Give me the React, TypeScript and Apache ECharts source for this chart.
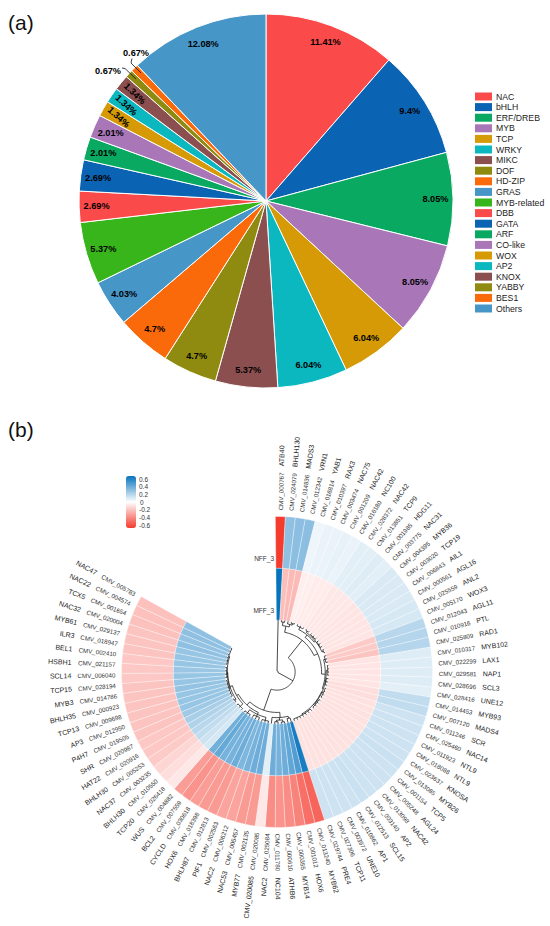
import React, { useEffect, useRef } from "react";
import * as echarts from "echarts";

const FONT = '"Liberation Sans", Arial, sans-serif';

const familyNames = ["NAC", "bHLH", "ERF/DREB", "MYB", "TCP", "WRKY", "MIKC", "DOF", "HD-ZIP", "GRAS", "MYB-related", "DBB", "GATA", "ARF", "CO-like", "WOX", "AP2", "KNOX", "YABBY", "BES1", "Others"];
const familyShares = [11.41, 9.4, 8.05, 8.05, 6.04, 6.04, 5.37, 4.7, 4.7, 4.03, 5.37, 2.69, 2.69, 2.01, 2.01, 1.34, 1.34, 1.34, 0.67, 0.67, 12.08];
const familyColors = ["#fb4a4a", "#0b63b4", "#0aa961", "#a977b8", "#d59a06", "#0bb8c0", "#8b4f4f", "#8f8a10", "#fb6a0a", "#4796c8", "#38b51b", "#fb4a4a", "#0b63b4", "#0aa961", "#a977b8", "#d59a06", "#0bb8c0", "#8b4f4f", "#8f8a10", "#fb6a0a", "#4796c8"];
const labelRotations: Record<string, number> = { WOX: -42, AP2: -43, KNOX: -44 };

const geneIds = ["CMV_000767", "CMV_024079", "CMV_014836", "CMV_012342", "CMV_016814", "CMV_010397", "CMV_003474", "CMV_001209", "CMV_016180", "CMV_028372", "CMV_013851", "CMV_001985", "CMV_003775", "CMV_004395", "CMV_003020", "CMV_006843", "CMV_000561", "CMV_025559", "CMV_005170", "CMV_012043", "CMV_010916", "CMV_025809", "CMV_010317", "CMV_022299", "CMV_029581", "CMV_028696", "CMV_028416", "CMV_014453", "CMV_007120", "CMV_011246", "CMV_025460", "CMV_011923", "CMV_018088", "CMV_023637", "CMV_013085", "CMV_001154", "CMV_005248", "CMV_013098", "CMV_003140", "CMV_012513", "CMV_010862", "CMV_003972", "CMV_027306", "CMV_029744", "CMV_013240", "CMV_001012", "CMV_000355", "CMV_000610", "CMV_011780", "CMV_025084", "CMV_020085", "CMV_002135", "CMV_005457", "CMV_006212", "CMV_002563", "CMV_012813", "CMV_018398", "CMV_030618", "CMV_007559", "CMV_004882", "CMV_026418", "CMV_010550", "CMV_003235", "CMV_005253", "CMV_020916", "CMV_020987", "CMV_019505", "CMV_012950", "CMV_009698", "CMV_000923", "CMV_014786", "CMV_028194", "CMV_006040", "CMV_021157", "CMV_002410", "CMV_018947", "CMV_029137", "CMV_020004", "CMV_001654", "CMV_004574", "CMV_005783"];
const geneNames = ["ATB40", "BHLH130", "MADS3", "VRN1", "YAB1", "RAX3", "NAC75", "NAC42", "NC100", "NAC42", "TCP9", "HDG11", "NAC31", "MYB36", "TCP19", "AIL1", "AGL16", "ANL2", "WOX3", "AGL11", "PTL", "RAD1", "MYB102", "LAX1", "NAP1", "SCL3", "UNE12", "MYB93", "MADS4", "SCR", "NAC14", "NTL9", "NTL9", "KNOSA", "MYB26", "TCP5", "AGL24", "NAC42", "AP2", "SCL15", "AP1", "UNE10", "TCP11", "PRE4", "MYB62", "HOX6", "MYB14", "ATHB6", "NC104", "NAC2", "CMV_020085", "MYB77", "NAC53", "NAC2", "PIF1", "BHLH87", "HOX6", "CYCLD", "BCL2", "WUS", "TCP20", "BHLH30", "NAC37", "BHLH30", "HAT22", "SHR", "P4H7", "AP3", "TCP13", "BHLH35", "MYB3", "TCP15", "SCL14", "HSBH1", "BEL1", "ILR3", "MYB61", "NAC32", "TCX5", "NAC22", "NAC47"];

const nffValues = [-0.6, 0.27, 0.28, 0.28, 0.04, 0.05, 0.05, 0.06, 0.05, 0.07, 0.07, 0.08, 0.07, 0.09, 0.09, 0.09, 0.09, 0.1, 0.1, 0.17, 0.18, 0.18, 0.08, 0.08, 0.08, 0.08, 0.07, 0.15, 0.15, 0.12, 0.12, 0.12, 0.12, 0.12, 0.13, 0.12, 0.12, 0.12, 0.12, 0.13, 0.12, 0.12, 0.12, 0.12, -0.47, -0.44, -0.38, -0.35, -0.33, -0.35, -0.07, -0.31, -0.31, -0.28, -0.28, -0.31, -0.31, -0.3, -0.33, -0.3, -0.07, -0.1, -0.13, -0.16, -0.17, -0.17, -0.18, -0.18, -0.18, -0.18, -0.18, -0.18, -0.17, -0.17, -0.17, -0.18, -0.18, -0.18, -0.19, -0.19, -0.19];
const mffValues = [0.6, -0.2, -0.21, -0.21, -0.05, -0.05, -0.06, -0.06, -0.06, -0.07, -0.07, -0.07, -0.07, -0.08, -0.08, -0.08, -0.08, -0.08, -0.08, -0.16, -0.16, -0.18, -0.08, -0.08, -0.08, -0.08, -0.08, -0.1, -0.1, -0.09, -0.09, -0.09, -0.09, -0.09, -0.09, -0.09, -0.09, -0.09, -0.09, -0.09, -0.09, -0.09, -0.09, -0.09, 0.56, 0.42, 0.38, 0.35, 0.33, 0.35, 0.07, 0.35, 0.35, 0.33, 0.31, 0.35, 0.33, 0.33, 0.37, 0.34, 0.1, 0.12, 0.15, 0.17, 0.19, 0.21, 0.23, 0.25, 0.25, 0.25, 0.26, 0.25, 0.25, 0.24, 0.25, 0.25, 0.25, 0.27, 0.26, 0.27, 0.27];
const scaleTicks = ["0.6", "0.4", "0.2", "0", "-0.2", "-0.4", "-0.6"];

type Tree = number | [number, ...Tree[]];
const dendrogram: Tree = [0.02, 0, [0.35,
  [0.78,
    [0.9, [0.97, 1, 2], [0.95, 3, [0.98, 4, 5]]],
    [0.86,
      [0.92, [0.97, 6, 7, 8], [0.95, [0.98, 9, 10], [0.97, 11, 12, 13], [0.96, 14, 15, 16], [0.98, 17, 18]]],
      [0.93, [0.96, 19, 20, 21], [0.95, [0.98, 22, 23, 24, 25], [0.96, 26, 27, 28], [0.94, [0.98, 29, 30, 31, 32], [0.97, 33, 34, 35, 36], [0.96, 37, 38, 39, 40, 41, 42, 43]]]],
    ],
  ],
  [0.78,
    [0.88, [0.92, 44, 45], [0.93, [0.97, 46, 47], [0.96, 48, 49]], 50],
    [0.86,
      [0.9, [0.96, 51, 52, 53], [0.94, 54, 55, 56], [0.97, 57, 58, 59]],
      [0.9, [0.97, 60, 61, 62], [0.95, [0.98, 63, 64], [0.96, [0.98, 65, 66, 67, 68, 69, 70], [0.97, 71, 72, 73, 74], [0.98, 75, 76, 77, 78, 79, 80]]]],
    ],
  ],
]];

// Flatten the tree to edges [radius1, angle1, radius2, angle2] in axis units.
function treeEdges(tree: Tree, out: number[][]): { r: number; a: number } {
  if (typeof tree === "number") return { r: 1, a: tree + 0.5 };
  const [h, ...kids] = tree;
  const placed = kids.map((k) => treeEdges(k, out));
  const a = (placed[0].a + placed[placed.length - 1].a) / 2;
  out.push([h, placed[0].a, h, placed[placed.length - 1].a]);
  placed.forEach((p) => out.push([h, p.a, p.r, p.a]));
  return { r: h, a };
}

const COLUMN_SPAN = 97.3; // full circle in column units: 81 columns cover about 299 degrees

export default function App() {
  const ref = useRef<HTMLDivElement>(null);
  useEffect(() => {
    document.body.style.margin = "0";
    const chart = echarts.init(ref.current!, null, { renderer: "svg" });

    const heatData: number[][] = [];
    nffValues.forEach((v, i) => heatData.push([i, 2, v]));
    mffValues.forEach((v, i) => heatData.push([i, 1, v]));
    const edges: number[][] = [];
    treeEdges(dendrogram, edges);

    const pieData = familyNames.map((name, i) => ({
      name,
      value: familyShares[i],
      itemStyle: { color: familyColors[i] },
    }));
    const labelData = familyNames.map((name, i) => {
      const small = familyShares[i] < 1;
      return {
        name,
        value: familyShares[i],
        label: small ? { position: "outside" } : { position: "inside", rotate: labelRotations[name] ?? 0 },
        labelLine: { show: false },
      };
    });

    chart.setOption({
      animation: false,
      textStyle: { fontFamily: FONT },
      legend: {
        orient: "vertical",
        left: 475,
        top: 92,
        padding: 0,
        itemWidth: 17,
        itemHeight: 8,
        itemGap: 1.6,
        icon: "rect",
        data: familyNames,
        selectedMode: false,
        itemStyle: { borderWidth: 0 },
        textStyle: { fontSize: 8.7, color: "#222", fontFamily: FONT, padding: [0, 0, 0, -1] },
      },
      polar: { center: [277, 672], radius: 155.5 },
      angleAxis: {
        type: "value",
        min: 0,
        max: COLUMN_SPAN,
        startAngle: 90.6,
        clockwise: true,
        axisLine: { show: false },
        axisTick: { show: false },
        axisLabel: { show: false },
        splitLine: { show: false },
      },
      radiusAxis: {
        type: "value",
        min: 0,
        max: 3,
        axisLine: { show: false },
        axisTick: { show: false },
        axisLabel: { show: false },
        splitLine: { show: false },
      },
      visualMap: {
        type: "continuous",
        seriesIndex: 2,
        dimension: 2,
        min: -0.6,
        max: 0.6,
        left: 126,
        top: 476,
        itemWidth: 10,
        itemHeight: 52,
        padding: 0,
        calculable: false,
        realtime: false,
        inRange: { color: ["#f43b2e", "#ffffff", "#0673bd"] },
        textStyle: { fontSize: 1, color: "transparent" },
        formatter: () => "",
        showLabel: false,
      },
      graphic: [
        { type: "text", x: 8, y: 12, style: { text: "(a)", fontSize: 21, fontFamily: FONT, fill: "#111" } },
        { type: "text", x: 8, y: 419, style: { text: "(b)", fontSize: 21, fontFamily: FONT, fill: "#111" } },
        ...scaleTicks.map((t, i) => ({
          type: "text",
          x: t === "0" ? 140 : 139,
          y: 479 + i * 7.67,
          style: { text: t, fontSize: 6.5, fontFamily: FONT, fill: "#333", verticalAlign: "middle" },
        })),
        { type: "text", x: 274, y: 558, style: { text: "NFF_3", fontSize: 6.5, fontFamily: FONT, fill: "#333", align: "right", verticalAlign: "middle" } },
        { type: "text", x: 274, y: 610, style: { text: "MFF_3", fontSize: 6.5, fontFamily: FONT, fill: "#333", align: "right", verticalAlign: "middle" } },
        { type: "polyline", z: 50, shape: { points: [[132, 58.5], [131, 63], [141, 73]] }, style: { stroke: "#111", lineWidth: 0.8, fill: "none" } },
        { type: "polyline", z: 50, shape: { points: [[122, 68], [125, 68.5], [136, 79]] }, style: { stroke: "#111", lineWidth: 0.8, fill: "none" } },
      ],
      series: [
        {
          type: "pie",
          center: [266, 201],
          radius: [0, 187],
          startAngle: 90,
          silent: true,
          label: { show: false },
          labelLine: { show: false },
          itemStyle: { borderColor: "#fff", borderWidth: 1 },
          data: pieData,
        },
        {
          type: "pie",
          center: [266, 201],
          radius: [146, 187],
          startAngle: 90,
          silent: true,
          avoidLabelOverlap: false,
          legendHoverLink: false,
          itemStyle: { color: "rgba(0,0,0,0)", borderWidth: 0 },
          label: { show: true, formatter: "{c}%", fontSize: 9.2, fontWeight: "bold", color: "#000", fontFamily: FONT },
          labelLayout: (p: any) => {
            const name = familyNames[p.dataIndex];
            if (name === "YABBY") return { x: 108, y: 71, align: "center", verticalAlign: "middle" };
            if (name === "BES1") return { x: 136, y: 53, align: "center", verticalAlign: "middle" };
            return {};
          },
          data: labelData,
        },
        {
          type: "custom",
          coordinateSystem: "polar",
          silent: true,
          encode: { angle: 0, radius: 1 },
          data: heatData,
          renderItem: (_p: any, api: any) => {
            const col = api.value(0);
            const row = api.value(1);
            const c = api.coord([0, col]);
            const a = api.coord([row + 1, col]);
            const b = api.coord([row + 1, col + 1]);
            const i = api.coord([row, col]);
            const r = Math.hypot(a[0] - c[0], a[1] - c[1]);
            const r0 = Math.hypot(i[0] - c[0], i[1] - c[1]);
            const start = Math.atan2(a[1] - c[1], a[0] - c[0]);
            let end = Math.atan2(b[1] - c[1], b[0] - c[0]);
            if (end < start) end += Math.PI * 2;
            return {
              type: "sector",
              shape: { cx: c[0], cy: c[1], r0, r, startAngle: start, endAngle: end, clockwise: true },
              style: { fill: api.visual("color"), stroke: "rgba(255,255,255,0.75)", lineWidth: 0.45 },
            };
          },
        },
        {
          type: "custom",
          coordinateSystem: "polar",
          silent: true,
          encode: { angle: 1, radius: 0 },
          data: edges,
          renderItem: (_p: any, api: any) => {
            const r1 = api.value(0);
            const a1 = api.value(1);
            const r2 = api.value(2);
            const a2 = api.value(3);
            const points: number[][] = [];
            if (a1 === a2) {
              points.push(api.coord([r1, a1]), api.coord([r2, a2]));
            } else {
              const n = Math.max(2, Math.ceil(Math.abs(a2 - a1) * 2));
              for (let k = 0; k <= n; k++) points.push(api.coord([r1, a1 + ((a2 - a1) * k) / n]));
            }
            return {
              type: "polyline",
              shape: { points },
              style: { stroke: "#1a1a1a", lineWidth: 0.8, fill: "none" },
            };
          },
        },
        {
          type: "custom",
          coordinateSystem: "polar",
          silent: true,
          encode: { angle: 0, radius: 1 },
          data: geneIds.map((_, i) => [i, 3.2]),
          renderItem: (_p: any, api: any) => {
            const col = api.value(0);
            const slot = col + 0.5 + col * 0.005;
            const c = api.coord([0, slot]);
            const idPos = api.coord([3.12, slot]);
            const namePos = api.coord([3.97, slot]);
            const theta = Math.atan2(idPos[1] - c[1], idPos[0] - c[0]);
            const left = Math.cos(theta) < 0;
            const rotation = left ? Math.PI - theta : -theta;
            const align = left ? "right" : "left";
            const common = { rotation, silent: true };
            return {
              type: "group",
              children: [
                {
                  type: "text",
                  x: idPos[0],
                  y: idPos[1],
                  ...common,
                  style: { text: geneIds[col], fontSize: 6.2, fontFamily: FONT, fill: "#333", align, verticalAlign: "middle" },
                },
                {
                  type: "text",
                  x: namePos[0],
                  y: namePos[1],
                  ...common,
                  style: { text: geneNames[col], fontSize: 7, fontFamily: FONT, fill: "#222", align, verticalAlign: "middle" },
                },
              ],
            };
          },
        },
      ],
    });
    return () => chart.dispose();
  }, []);
  return <div ref={ref} style={{ width: 550, height: 926 }} />;
}
